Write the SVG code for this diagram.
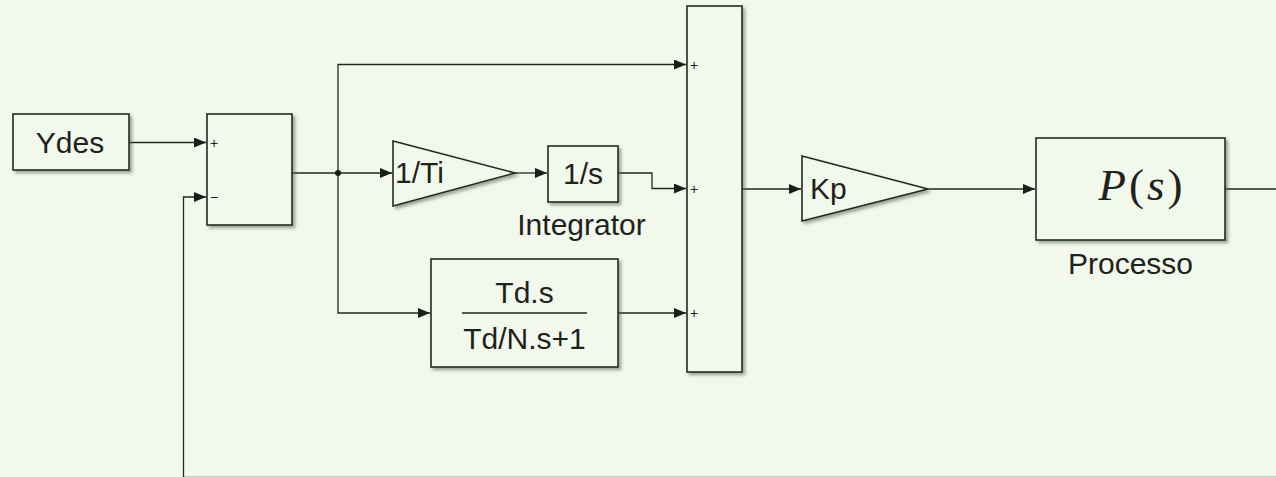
<svg xmlns="http://www.w3.org/2000/svg" width="1276" height="477" viewBox="0 0 1276 477">
<style>
.blk{fill:#f3f8ec;stroke:#232820;stroke-width:1.6;filter:url(#sh)}
.ln{fill:none;stroke:#232820;stroke-width:1.3}
.arr{marker-end:url(#ah)}
.t{font-family:"Liberation Sans",Arial,sans-serif;font-size:30px;fill:#1e221c}
.c{text-anchor:middle}
.sg{font-family:"Liberation Sans",Arial,sans-serif;font-size:14px;fill:#1e221c}
.m{font-family:"Liberation Serif","Times New Roman",serif;font-size:45px;letter-spacing:3px;fill:#1e221c}
</style>
<defs>
<filter id="sh" x="-10%" y="-10%" width="130%" height="130%">
<feDropShadow dx="2.5" dy="2.5" stdDeviation="1.5" flood-color="#5a6055" flood-opacity="0.55"/>
</filter>
<marker id="ah" markerUnits="userSpaceOnUse" markerWidth="12" markerHeight="10" refX="12" refY="5" orient="auto">
<path d="M0,0 L12,5 L0,10 z" fill="#1a1e18"/>
</marker>
</defs>
<rect width="1276" height="477" fill="#f3f8ec"/>
<line x1="184" y1="476.5" x2="1276" y2="476.5" stroke="#c8ccc4" stroke-width="1"/>

<g id="connectors">
<path class="ln arr" d="M129,142.5 H206"/>
<path class="ln arr" d="M183.5,477 V197 H206"/>
<path class="ln arr" d="M292,173 H392"/>
<path class="ln arr" d="M338,173 V64.5 H686"/>
<path class="ln arr" d="M338,173 V313 H430"/>
<path class="ln arr" d="M515,173 H547"/>
<path class="ln arr" d="M618,173 H652 V188.5 H686"/>
<path class="ln arr" d="M618,313 H686"/>
<path class="ln arr" d="M742,189 H801"/>
<path class="ln arr" d="M928,189 H1035"/>
<path class="ln" d="M1225,189 H1276"/>
<circle cx="338" cy="173" r="3" fill="#1a1e18"/>
</g>

<g id="ydes">
<rect class="blk" x="13" y="114" width="116" height="56"/>
<text class="t c" x="70" y="152.5">Ydes</text>
</g>

<g id="sum1">
<rect class="blk" x="207" y="114" width="85" height="111"/>
<text class="sg" x="210" y="147.5">+</text>
<text class="sg" x="210" y="202">−</text>
</g>

<g id="gain-ti">
<path class="blk" d="M393,141 L515,173 L393,206 Z"/>
<text class="t" x="395" y="183">1/Ti</text>
</g>

<g id="integrator">
<rect class="blk" x="548" y="146" width="70" height="56"/>
<text class="t c" x="583" y="183.5">1/s</text>
<text class="t c" x="581.5" y="235">Integrator</text>
</g>

<g id="derivative">
<rect class="blk" x="431" y="259" width="187" height="108"/>
<text class="t c" x="524.5" y="303">Td.s</text>
<line x1="462" y1="313" x2="587" y2="313" stroke="#232820" stroke-width="1.5"/>
<text class="t c" x="524.5" y="349">Td/N.s+1</text>
</g>

<g id="sum2">
<rect class="blk" x="687" y="6" width="55" height="366"/>
<text class="sg" x="690" y="69.5">+</text>
<text class="sg" x="690" y="193.5">+</text>
<text class="sg" x="690" y="318">+</text>
</g>

<g id="gain-kp">
<path class="blk" d="M802,156 L928,189 L802,221 Z"/>
<text class="t" x="810" y="198.5">Kp</text>
</g>

<g id="processo">
<rect class="blk" x="1036" y="138" width="189" height="102"/>
<text class="m c" x="1142" y="200"><tspan font-style="italic">P</tspan>(<tspan font-style="italic">s</tspan>)</text>
<text class="t c" x="1130.5" y="274">Processo</text>
</g>
</svg>
